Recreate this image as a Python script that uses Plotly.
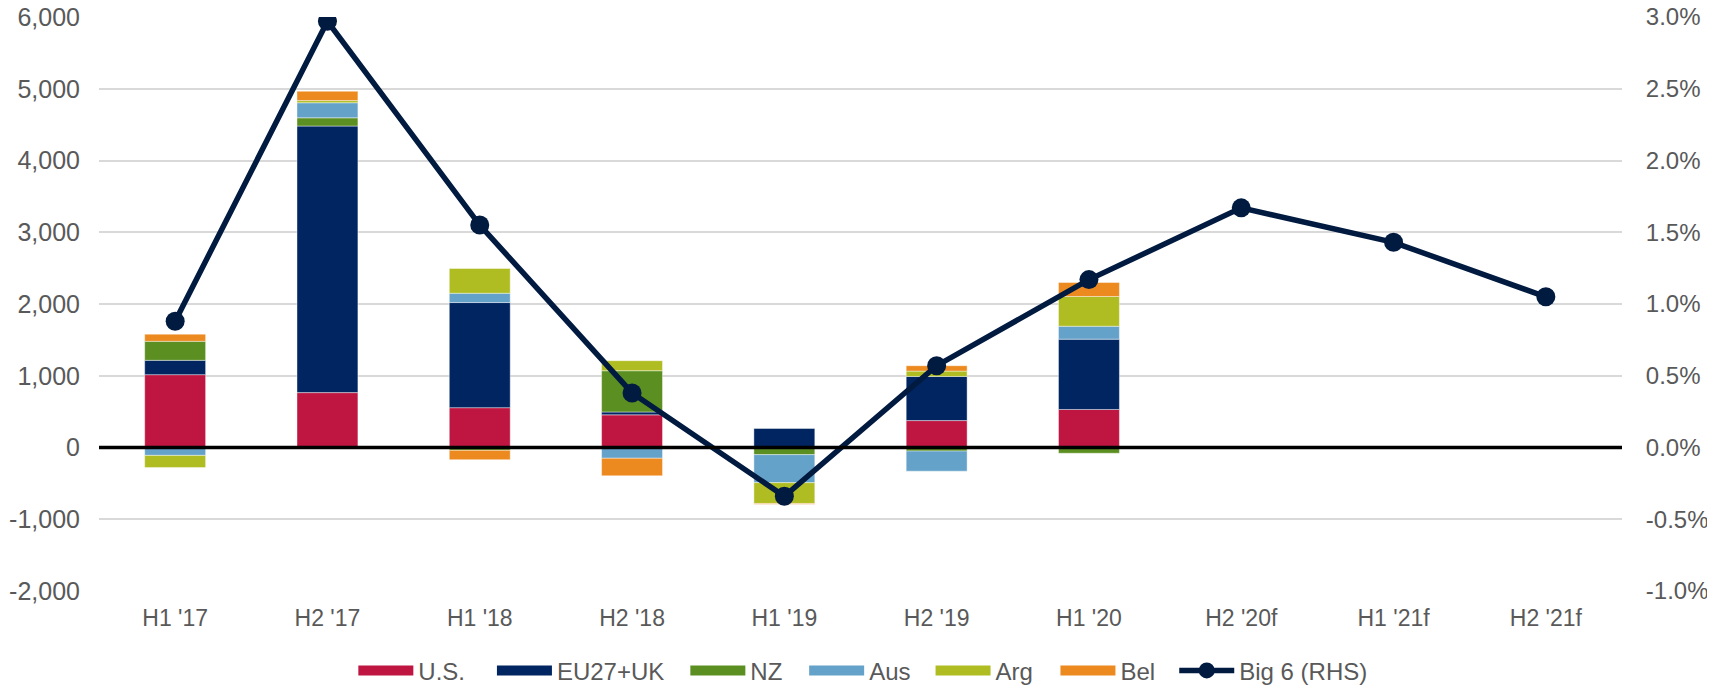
import plotly.graph_objects as go

periods = ["H1 '17", "H2 '17", "H1 '18", "H2 '18", "H1 '19",
           "H2 '19", "H1 '20", "H2 '20f", "H1 '21f", "H2 '21f"]

us = [1015, 765, 555, 455, 0, 375, 530, None, None, None]
eu_uk = [200, 3715, 1465, 40, 265, 615, 980, None, None, None]
nz = [265, 115, -40, 575, -100, -50, -80, None, None, None]
aus = [-110, 210, 130, -150, -390, -280, 180, None, None, None]
arg = [-170, 30, 345, 140, -290, 75, 415, None, None, None]
bel = [100, 130, -130, -245, -10, 75, 195, None, None, None]

big6 = [0.88, 2.97, 1.55, 0.38, -0.34, 0.57, 1.17, 1.67, 1.43, 1.05]

left_ticks = [-2000, -1000, 0, 1000, 2000, 3000, 4000, 5000, 6000]
left_labels = ['-2,000', '-1,000', '0', '1,000', '2,000', '3,000', '4,000', '5,000', '6,000']
right_ticks = [-0.01, -0.005, 0, 0.005, 0.01, 0.015, 0.02, 0.025, 0.03]
right_labels = ['-1.0%', '-0.5%', '0.0%', '0.5%', '1.0%', '1.5%', '2.0%', '2.5%', '3.0%']

colors = {
    'U.S.': '#BE1640',
    'EU27+UK': '#002561',
    'NZ': '#5B8F22',
    'Aus': '#65A2CA',
    'Arg': '#B0BD22',
    'Bel': '#EC8A1F',
}
line_color = '#001A40'
grey = '#595959'
sans = 'Liberation Sans, Arial, sans-serif'

# each legend entry sits in its own legend box, spread like the original
legend_x = [0.167, 0.258, 0.385, 0.463, 0.546, 0.628, 0.706]
legend_ids = ['legend', 'legend2', 'legend3', 'legend4', 'legend5', 'legend6', 'legend7']

fig = go.Figure()

series = [('U.S.', us), ('EU27+UK', eu_uk), ('NZ', nz),
          ('Aus', aus), ('Arg', arg), ('Bel', bel)]

for i, (name, vals) in enumerate(series):
    fig.add_trace(go.Bar(
        x=periods, y=vals, name=name, showlegend=False,
        marker=dict(color=colors[name],
                    line=dict(color='rgba(255,255,255,0.6)', width=0.7)),
    ))
    # legend swatch (wide rectangle like the original)
    fig.add_trace(go.Scatter(
        x=[None], y=[None], name=name, mode='lines',
        line=dict(color=colors[name], width=16),
        legend=legend_ids[i], hoverinfo='skip',
    ))

fig.add_trace(go.Scatter(
    x=periods, y=[v / 100 for v in big6], name='Big 6 (RHS)',
    yaxis='y2', mode='lines+markers',
    line=dict(color=line_color, width=5.5),
    marker=dict(color=line_color, size=19),
    legend='legend7',
))

# thick zero line drawn over the bars
fig.add_shape(type='line', xref='paper', yref='y', x0=0, x1=1, y0=0, y1=0,
              line=dict(color='black', width=3.5), layer='above')

legend_style = dict(orientation='h', xanchor='left', y=-0.139, yanchor='middle',
                    font=dict(size=24, color=grey), bgcolor='rgba(0,0,0,0)',
                    itemwidth=55)

fig.update_layout(
    width=1715,
    height=700,
    barmode='relative',
    bargap=0.6,
    plot_bgcolor='white',
    paper_bgcolor='white',
    margin=dict(l=91, r=101, t=9, b=117),
    font=dict(family=sans, color=grey, size=24),
    xaxis=dict(
        range=[-0.5, 9.5], automargin=False,
        showgrid=False, showline=False,
        ticks='outside', ticklen=6, tickcolor='rgba(0,0,0,0)',
        tickfont=dict(size=23, color=grey),
    ),
    yaxis=dict(
        range=[-2000, 6000], automargin=False, ticklabeloverflow='allow',
        tickvals=left_ticks, ticktext=left_labels,
        showgrid=True, gridcolor='#D9D9D9', gridwidth=2,
        zeroline=False, showline=False,
        ticks='outside', ticklen=13, tickcolor='rgba(0,0,0,0)',
        tickfont=dict(size=25, color=grey),
    ),
    yaxis2=dict(
        overlaying='y', side='right',
        range=[-0.01, 0.03], automargin=False, ticklabeloverflow='allow',
        tickvals=right_ticks, ticktext=right_labels,
        showgrid=False, zeroline=False, showline=False,
        ticks='outside', ticklen=18, tickcolor='rgba(0,0,0,0)',
        tickfont=dict(size=24, color=grey),
    ),
)

for lid, lx in zip(legend_ids, legend_x):
    fig.update_layout({lid: dict(legend_style, x=lx)})

fig.write_html("out.html")
